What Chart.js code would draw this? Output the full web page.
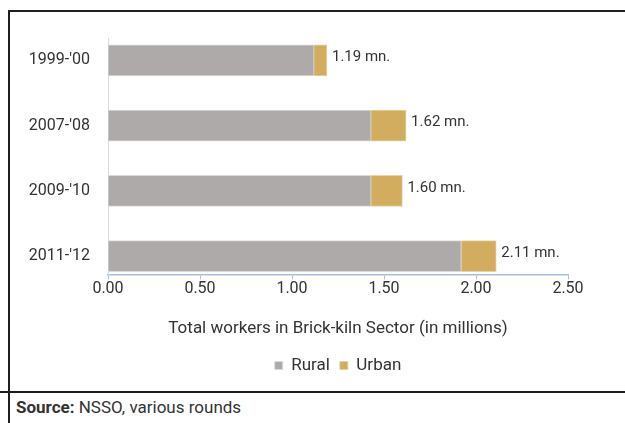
<!DOCTYPE html>
<html>
<head>
<meta charset="utf-8">
<script src="https://cdn.jsdelivr.net/npm/chart.js@4"></script>
<style>
    body { margin: 0; width: 625px; height: 423px; overflow: hidden; background: #fff; position: relative; font-family: Roboto, sans-serif; }
    .line { position: absolute; background: #1f1f1f; z-index: 2; }
    #frame-left { left: 8px; top: 10px; width: 2px; height: 413px; }
    #frame-top { left: 8px; top: 10px; width: 617px; height: 2px; }
    #rule { left: 0; top: 391px; width: 625px; height: 2px; }
    #chart-box { position: absolute; left: 0; top: 0; width: 625px; height: 391px; z-index: 1; }
    #source { position: absolute; left: 16px; top: 397px; font-size: 17px; color: #333; z-index: 2; }
</style>
</head>
<body>
<div id="frame-left" class="line"></div>
<div id="frame-top" class="line"></div>
<div id="rule" class="line"></div>
<div id="chart-box"><canvas id="kiln-chart"></canvas></div>
<div id="source"><b>Source:</b> NSSO, various rounds</div>
<script>
// Brick-kiln workers by survey round, split rural / urban (millions)
const years = ["1999-'00", "2007-'08", "2009-'10", "2011-'12"];
const rural = [1.12, 1.43, 1.43, 1.92];
const urban = [0.07, 0.19, 0.17, 0.19];
const xTicks = [0, 0.5, 1, 1.5, 2, 2.5];

const COLORS = {
    rural: '#aeaaa9',
    urban: '#d2ac5f',
    text:  '#333',
    axis:  '#9dc3e6',
};

const FONT = 'Roboto';

// total label to the right of each stacked bar
const totalLabels = {
    id: 'totalLabels',
    afterDatasetsDraw(chart) {
        const ctx = chart.ctx;
        const last = chart.getDatasetMeta(chart.data.datasets.length - 1);
        ctx.save();
        ctx.font = `15px ${FONT}`;
        ctx.fillStyle = COLORS.text;
        ctx.textAlign = 'left';
        ctx.textBaseline = 'middle';
        last.data.forEach((bar, i) => {
            const total = (rural[i] + urban[i]).toFixed(2);
            ctx.fillText(`${total} mn.`, bar.x + 5, bar.y - 3);
        });
        ctx.restore();
    }
};

const ctx = document.getElementById('kiln-chart').getContext('2d');
new Chart(ctx, {
    type: 'bar',
    data: {
        datasets: [
            {
                label: 'Rural',
                data: rural.map((v, i) => ({ x: v, y: i })),
                backgroundColor: COLORS.rural,
                borderColor: '#dcdad8',
                borderWidth: 1,
                stack: 'total',
            },
            {
                label: 'Urban',
                data: urban.map((v, i) => ({ x: v, y: i })),
                backgroundColor: COLORS.urban,
                borderColor: '#e6d3a8',
                borderWidth: 1,
                stack: 'total',
            },
        ]
    },
    options: {
        indexAxis: 'y',
        responsive: true,
        maintainAspectRatio: false,
        animation: false,
        barThickness: 31,
        layout: { padding: { top: 38, right: 57, bottom: 7, left: 0 } },
        scales: {
            x: {
                type: 'linear',
                stacked: true,
                min: xTicks[0],
                max: xTicks[xTicks.length - 1],
                afterBuildTicks(scale) {
                    scale.ticks = xTicks.map(v => ({ value: v }));
                },
                ticks: {
                    callback: v => v.toFixed(2),
                    font: { size: 16, family: FONT },
                    color: COLORS.text,
                    padding: 0,
                    maxRotation: 0,
                },
                grid: {
                    drawOnChartArea: false,
                    drawTicks: true,
                    tickLength: 5,
                    color: COLORS.axis,
                },
                border: { color: COLORS.axis, width: 1.5 },
                title: {
                    display: true,
                    text: 'Total workers in Brick-kiln Sector (in millions)',
                    font: { size: 17, family: FONT },
                    color: COLORS.text,
                    padding: { top: 20, bottom: 8 },
                },
            },
            y: {
                type: 'linear',
                stacked: true,
                reverse: true,
                offset: false,
                min: -0.344,
                max: 3.281,
                afterBuildTicks(scale) {
                    scale.ticks = years.map((_, i) => ({ value: i }));
                },
                afterFit(scale) {
                    scale.width = 108;
                },
                ticks: {
                    callback: v => years[v],
                    font: { size: 16, family: FONT },
                    color: COLORS.text,
                    padding: 10,
                },
                grid: { display: false },
                border: { display: true, color: '#d9d9d9', width: 1 },
            },
        },
        plugins: {
            legend: {
                position: 'bottom',
                fullSize: false,
                labels: {
                    boxWidth: 8,
                    boxHeight: 8,
                    padding: 10,
                    font: { size: 17, family: FONT },
                    color: COLORS.text,
                },
            },
            tooltip: { enabled: false },
        },
    },
    plugins: [totalLabels],
});
</script>
</body>
</html>
